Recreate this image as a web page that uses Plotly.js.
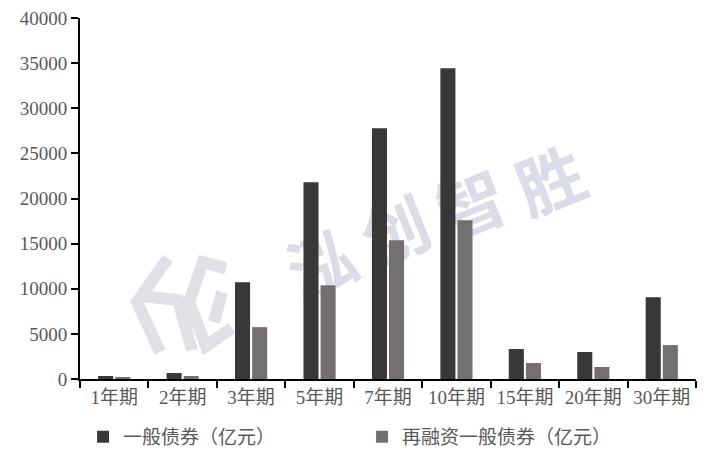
<!DOCTYPE html>
<html>
<head>
<meta charset="utf-8">
<script src="https://cdn.plot.ly/plotly-3.0.1.min.js"></script>
<style>
html,body{margin:0;padding:0;background:#fff;}
#wrap{position:relative;width:711px;height:457px;}
#wm{position:absolute;left:0;top:0;width:711px;height:457px;z-index:0;}
#wm span{position:absolute;transform:translate(-50%,-50%) rotate(-22deg);font-family:"Noto Sans CJK SC",sans-serif;font-weight:700;font-size:67px;line-height:1;color:#dadde7;white-space:nowrap;}
#chart{position:absolute;left:0;top:0;width:711px;height:457px;z-index:1;}
</style>
</head>
<body>
<div id="wrap"><div id="wm"></div><div id="chart"></div></div>
<script>
const categories = ["1年期","2年期","3年期","5年期","7年期","10年期","15年期","20年期","30年期"];
const generalBonds = [330, 660, 10730, 21800, 27780, 34420, 3320, 2990, 9070];
const refinanceBonds = [220, 330, 5750, 10400, 15380, 17600, 1770, 1330, 3760];
const yTicks = [0,5000,10000,15000,20000,25000,30000,35000,40000];
const seriesNames = ["一般债券（亿元）","再融资一般债券（亿元）"];
const watermarkChars = ["泓","创","智","胜"];

const FONT = '"Liberation Serif", "Noto Sans CJK SC", serif';
const W = 711, H = 457, ML = 80, MR = 15, MT = 17.5, MB = 78;
const PW = W - ML - MR, PH = H - MT - MB;
const px2x = p => (p - ML) / PW;
const px2y = p => (H - MB - p) / PH;

// watermark text (decoration, behind the transparent chart)
const wmCenters = [[320,260],[394,227],[470,201],[549,177]];
const wm = document.getElementById('wm');
watermarkChars.forEach((c,i) => {
  const s = document.createElement('span');
  s.textContent = c;
  s.style.left = wmCenters[i][0] + 'px';
  s.style.top = wmCenters[i][1] + 'px';
  wm.appendChild(s);
});

const traces = [
  {type:'bar', name:seriesNames[0], x:categories, y:generalBonds, marker:{color:'#3a3836'}},
  {type:'bar', name:seriesNames[1], x:categories, y:refinanceBonds, marker:{color:'#757070'}}
];

function pathFrom(pts){
  return pts.map((p,i)=>(i?'L':'M')+px2x(p[0]).toFixed(4)+','+px2y(p[1]).toFixed(4)).join(' ');
}
const logoColor = '#e0e1e7';
const logoPaths = [
  [[168,258],[137,302],[160,352]],
  [[142,296],[178,300],[192,350]],
  [[226,268],[203,262],[189,302],[206,346],[232,328]],
  [[222,292],[214,322]]
];
const shapes = logoPaths.map(pts => ({
  type:'path', xref:'paper', yref:'paper', layer:'below', path:pathFrom(pts),
  line:{color:logoColor, width:12}
}));

const layout = {
  width:W, height:H,
  margin:{l:ML, r:MR, t:MT, b:MB, autoexpand:false},
  paper_bgcolor:'rgba(0,0,0,0)', plot_bgcolor:'rgba(0,0,0,0)',
  barmode:'group', bargap:0.5, bargroupgap:0.12,
  font:{family:FONT, size:19, color:'#595959'},
  xaxis:{
    type:'category', showline:true, linecolor:'#000', linewidth:2,
    ticks:'outside', tickson:'boundaries', ticklen:7, tickwidth:2, tickcolor:'#000',
    tickfont:{family:FONT, size:19, color:'#595959'},
    showgrid:false, zeroline:false, fixedrange:true, automargin:false
  },
  yaxis:{
    range:[0,40000], tickvals:yTicks, ticktext:yTicks.map(String),
    showline:true, linecolor:'#000', linewidth:2,
    ticks:'outside', ticklen:7, tickwidth:2, tickcolor:'#000',
    tickfont:{family:FONT, size:19, color:'#595959'},
    showgrid:false, zeroline:false, fixedrange:true, automargin:false
  },
  legend:{
    orientation:'h', x:0.005, xanchor:'left', yref:'container', y:0.044, yanchor:'middle',
    font:{family:FONT, size:19, color:'#595959'},
    entrywidth:234, entrywidthmode:'pixels', bgcolor:'rgba(0,0,0,0)'
  },
  shapes:shapes
};

Plotly.newPlot('chart', traces, layout, {displayModeBar:false, staticPlot:true});
</script>
</body>
</html>
